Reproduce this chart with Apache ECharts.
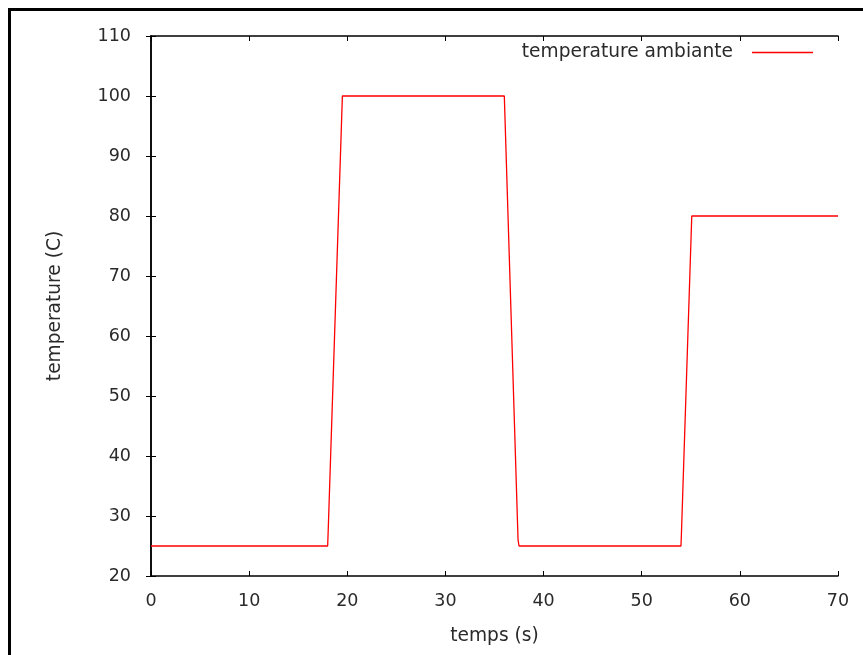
<!DOCTYPE html>
<html>
<head>
<meta charset="utf-8">
<script src="https://cdn.jsdelivr.net/npm/echarts@6/dist/echarts.min.js"></script>
<style>
html,body{margin:0;padding:0;background:#fff;}
#c{width:863px;height:655px;}
</style>
</head>
<body>
<div id="c"></div>
<script>
const seriesName = 'temperature ambiante';
const timeValues = [0, 18, 18.05, 19.5, 36, 37.4, 37.5, 54, 54.05, 55.1, 70];
const tempValues = [25, 25, 27.3, 100, 100, 26, 25, 25, 27.2, 80, 80];
const xTicks = [0, 10, 20, 30, 40, 50, 60, 70];
const yTicks = [20, 30, 40, 50, 60, 70, 80, 90, 100, 110];

const chart = echarts.init(document.getElementById('c'));
const font = 'DejaVu Sans, sans-serif';
const fs = 17.5;
const fsName = 18.6;
const txt = '#2a2a2a';
const axisCommon = {
  axisLine: {show: true, lineStyle: {color: '#000', width: 1.5}},
  axisTick: {show: true, inside: true, length: 5, lineStyle: {color: '#000', width: 1}},
  splitLine: {show: false}
};
chart.setOption({
  animation: false,
  backgroundColor: '#fff',
  graphic: [{
    type: 'rect', left: 7, top: 7, shape: {width: 900, height: 700},
    style: {fill: 'none', stroke: '#000', lineWidth: 3}, z: 100
  }],
  grid: {left: 151, right: 25, top: 36, bottom: 79},
  legend: {
    data: [seriesName], right: 50, top: 43, padding: 0, align: 'right',
    icon: 'rect', itemWidth: 61, itemHeight: 1.5,
    textStyle: {fontFamily: font, fontSize: fsName, color: txt, padding: [0, 14, 0, 0]}
  },
  xAxis: [
    Object.assign({
      type: 'value', min: xTicks[0], max: xTicks[xTicks.length - 1], interval: 10,
      name: 'temps (s)', nameLocation: 'middle', nameGap: 51,
      nameTextStyle: {fontFamily: font, fontSize: fsName, color: txt},
      axisLabel: {fontFamily: font, fontSize: fs, color: txt, margin: 16}
    }, axisCommon),
    Object.assign({
      type: 'value', position: 'top', min: xTicks[0], max: xTicks[xTicks.length - 1], interval: 10,
      axisLabel: {show: false}
    }, axisCommon)
  ],
  yAxis: [
    Object.assign({
      type: 'value', min: yTicks[0], max: yTicks[yTicks.length - 1], interval: 10,
      name: 'temperature (C)', nameLocation: 'middle', nameGap: 86,
      nameTextStyle: {fontFamily: font, fontSize: fsName, color: txt},
      axisLabel: {fontFamily: font, fontSize: fs, color: txt, margin: 20}
    }, axisCommon),
    Object.assign({
      type: 'value', position: 'right', min: yTicks[0], max: yTicks[yTicks.length - 1], interval: 10,
      axisLabel: {show: false}
    }, axisCommon)
  ],
  series: [{
    name: seriesName, type: 'line', showSymbol: false, symbol: 'none',
    data: timeValues.map((t, i) => [t, tempValues[i]]),
    lineStyle: {color: '#ff0000', width: 1.3},
    itemStyle: {color: '#ff0000'}
  }]
});
</script>
</body>
</html>
